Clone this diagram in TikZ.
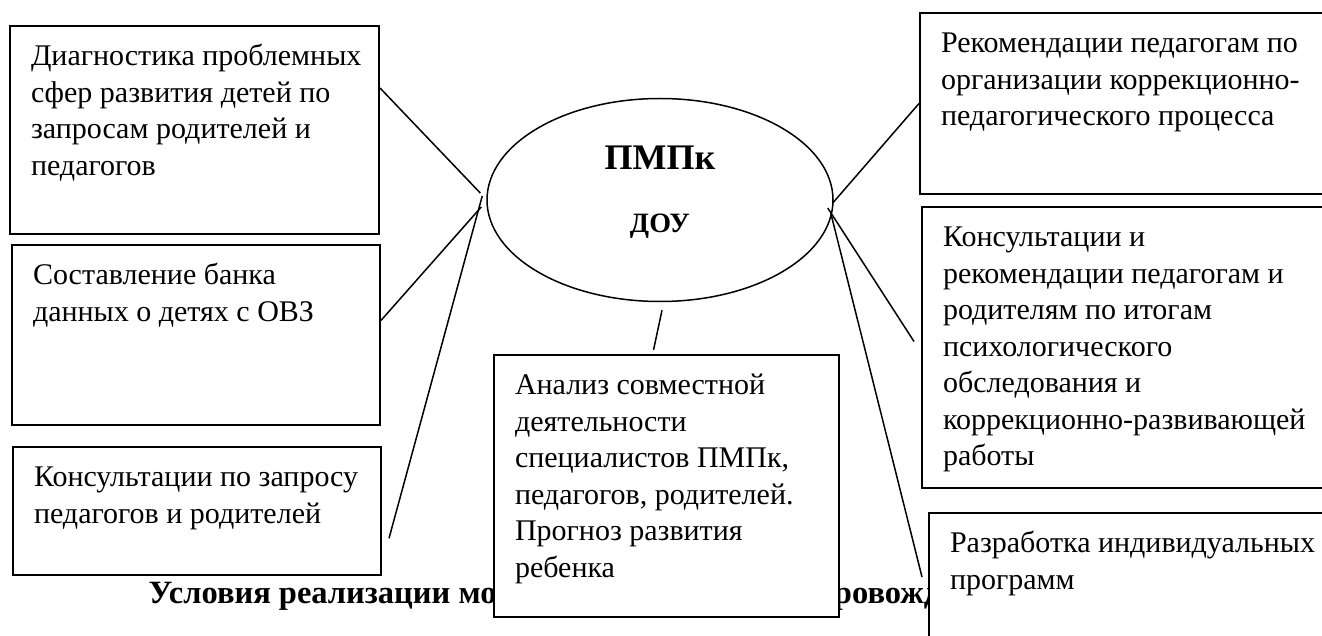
\documentclass[tikz,border=0pt]{standalone}
\usepackage{fontspec}
\setmainfont{Liberation Serif}
\usetikzlibrary{shapes.geometric,calc}

\newcommand{\boxtext}[3]{\hspace*{21pt}\parbox[t][#2pt][t]{\dimexpr#1pt-21pt\relax}{\raggedright\strut #3}}

\begin{document}
\begin{tikzpicture}[x=1pt, y=-1pt,
  block/.style={rectangle, draw, fill=white, line width=2pt, anchor=north west,
    inner xsep=0pt, inner ysep=14pt, font=\fontsize{30}{36.5}\selectfont},
  link/.style={line width=1.5pt}]
\clip (0, 0) rectangle (1322, 636);
% title line, partly hidden by the boxes
\node at (145, 603) (title) [anchor=base west, font=\bfseries\fontsize{32.5}{36}\selectfont] {Условия реализации модели комплексного сопровождения};
\node at (9, 25)    (diag)     [block] {\boxtext{369}{180}{Диагностика проблемных\\ сфер развития детей по\\ запросам родителей и\\ педагогов}};
\node at (11, 244)  (bank)     [block] {\boxtext{368}{152}{Составление банка\\ данных о детях с ОВЗ}};
\node at (12, 446)  (consult)  [block] {\boxtext{368}{100}{Консультации по запросу\\ педагогов и родителей}};
\node at (493, 354) (analysis) [block] {\boxtext{345}{234}{Анализ совместной\\ деятельности\\ специалистов ПМПк,\\ педагогов, родителей.\\ Прогноз развития\\ ребенка}};
\node at (919, 12)  (recom)    [block] {\boxtext{421}{153}{Рекомендации педагогам по\\ организации коррекционно-\\ педагогического процесса}};
\node at (921, 206) (advice)   [block] {\boxtext{419}{253}{Консультации и\\ рекомендации педагогам и\\ родителям по итогам\\ психологического\\ обследования и\\ коррекционно-развивающей\\ работы}};
\node at (928, 512) (develop)  [block] {\boxtext{412}{120}{Разработка индивидуальных\\ программ}};
% centre
\node at (660, 200) (pmpk) [ellipse, draw, line width=1.5pt, minimum width=346pt, minimum height=203pt,
  inner sep=0pt, align=center, font=\bfseries\fontsize{36}{63}\selectfont]
  {ПМПк\\ {\fontsize{28}{63}\selectfont ДОУ\rule[-21pt]{0pt}{0pt}}};
\draw [link] ($(diag.north east)!0.3!(diag.south east)$) -- ([xshift=-6pt, yshift=7pt]pmpk.west);
\draw [link] ($(bank.north east)!0.42!(bank.south east)$) -- ([xshift=-5pt, yshift=-7pt]pmpk.west);
\draw [link] ($(consult.north east)!0.71!(consult.south east)+(7,0)$) -- ([xshift=-4pt, yshift=4pt]pmpk.west);
\draw [link] ([xshift=2pt, yshift=-8pt]pmpk.south) -- ([xshift=-13pt, yshift=4pt]analysis.north);
\draw [link] (recom.west) -- ([xshift=-1pt, yshift=-3pt]pmpk.east);
\draw [link] ([xshift=-6pt, yshift=-8pt]pmpk.east) -- ([xshift=-7pt, yshift=6pt]advice.west);
\draw [link] ([xshift=-3pt, yshift=-13pt]pmpk.east) -- ([xshift=-6pt, yshift=-65pt]develop.north west);
\end{tikzpicture}
\end{document}
